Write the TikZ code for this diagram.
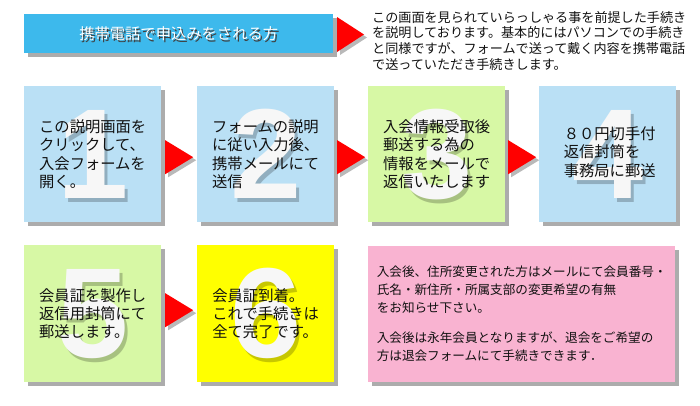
\documentclass[tikz,border=0pt]{standalone}
\usepackage{fontspec}
\newfontfamily\jpfont{Noto Sans CJK JP}
\newfontfamily\numfont{Liberation Sans}
\usetikzlibrary{calc,positioning,shadows}
\usepackage{xcolor}
\definecolor{stBlue}{HTML}{BAE0F5}
\definecolor{stGreen}{HTML}{D7F8A5}
\definecolor{stYellow}{HTML}{FFFF00}
\definecolor{stPink}{HTML}{F9B3D1}
\definecolor{stHead}{HTML}{3DB9EC}
\definecolor{stRed}{HTML}{FF0000}
\definecolor{stInk}{HTML}{111111}
\tikzset{
  boxshade/.style  = {drop shadow={shadow xshift=4pt, shadow yshift=-4pt,
                      fill=black!65}},
  stepbox/.style   = {boxshade, minimum width=137pt, minimum height=136pt,
                      inner sep=0, anchor=north west},
  bignum/.style    = {font=\numfont\bfseries\fontsize{128}{128}\selectfont,
                      text=white!97!black, inner sep=0},
  numshade/.style  = {bignum, text=black, opacity=0.22},
  steptext/.style  = {font=\jpfont\fontsize{15.3}{18.2}\selectfont, align=left,
                      inner sep=0, text=stInk},
  notetext/.style  = {font=\jpfont\fontsize{13.1}{15.6}\selectfont, align=left,
                      inner sep=0, text=stInk},
  pinktext/.style  = {font=\jpfont\fontsize{12.6}{18}\selectfont, align=left,
                      inner sep=0, text=stInk},
  redarrow/.style  = {fill=stRed, drop shadow={shadow xshift=3pt,
                      shadow yshift=-3pt, fill=black!55}},
}

\begin{document}
\begin{tikzpicture}[x=1pt, y=-1pt]
\useasboundingbox (0,0) rectangle (700,405);

% dimensions
\def\rowA{86}    % top of first row
\def\rowB{245}   % top of second row

% --- heading bar ---
\node[boxshade, fill=stHead, minimum width=309pt, minimum height=39pt,
      inner sep=0, anchor=north west] (head) at (24,14) {};
\node[font=\jpfont\fontsize{15.3}{18}\selectfont, text=black!75, inner sep=0]
  at ($(head.center)+(1.5,1.5)$) {携帯電話で申込みをされる方};
\node[font=\jpfont\fontsize{15.3}{18}\selectfont, text=white, inner sep=0]
  (headtext) at (head.center) {携帯電話で申込みをされる方};

\fill[redarrow, shift={(351,34.5)}] (-14,-17.5) -- (13,0) -- (-14,17.5) -- cycle;

\node[notetext, anchor=north west] (note) at (372,11)
  {この画面を見られていらっしゃる事を前提した手続き\\
   を説明しております。基本的にはパソコンでの手続き\\
   と同様ですが、フォームで送って戴く内容を携帯電話\\
   で送っていただき手続きします。};

% --- row 1 ---
\node[stepbox, fill=stBlue]  (b1) at (24,\rowA)  {};
\node[stepbox, fill=stBlue]  (b2) at (197,\rowA) {};
\node[stepbox, fill=stGreen] (b3) at (368,\rowA) {};
\node[stepbox, fill=stBlue]  (b4) at (539,\rowA) {};

% --- row 2 ---
\node[stepbox, fill=stGreen, minimum height=137pt]  (b5) at (24,\rowB)  {};
\node[stepbox, fill=stYellow, minimum height=137pt] (b6) at (197,\rowB) {};
\node[stepbox, fill=stPink, minimum width=307pt, minimum height=136pt]
  (info) at (368,246) {};

% big step numbers behind the text
\foreach \n in {1,...,6}{
  \node[numshade] at ($(b\n.center)+(3,4)$) {\n};
  \node[bignum] (n\n) at (b\n.center) {\n};
}

% texts
\node[steptext] (t1) at (b1.center)
  {この説明画面を\\クリックして、\\入会フォームを\\開く。};
\node[steptext] (t2) at (b2.center)
  {フォームの説明\\に従い入力後、\\携帯メールにて\\送信};
\node[steptext] (t3) at (b3.center)
  {入会情報受取後\\郵送する為の\\情報をメールで\\返信いたします};
\node[steptext] (t4) at ($(b4.center)+(2,-2)$)
  {８０円切手付\\返信封筒を\\事務局に郵送};
\node[steptext] (t5) at (b5.center)
  {会員証を製作し\\返信用封筒にて\\郵送します。};
\node[steptext] (t6) at (b6.center)
  {会員証到着。\\これで手続きは\\全て完了です。};
\node[pinktext] (t7) at (info.center)
  {入会後、住所変更された方はメールにて会員番号・\\
   氏名・新住所・所属支部の変更希望の有無\\
   をお知らせ下さい。\\[12pt]
   入会後は永年会員となりますが、退会をご希望の\\
   方は退会フォームにて手続きできます．};

% arrows between the steps
\coordinate (a1) at ($(b1.east)!.5!(b2.west)+(0,3)$);
\coordinate (a2) at ($(b2.east)!.5!(b3.west)+(0,3)$);
\coordinate (a3) at ($(b3.east)!.5!(b4.west)+(0,3)$);
\coordinate (a5) at ($(b5.east)!.5!(b6.west)+(0,-3.5)$);
\foreach \a in {a1,a2,a3,a5}
  \fill[redarrow, shift={(\a)}] (-14,-17) -- (14,0) -- (-14,17) -- cycle;

\end{tikzpicture}
\end{document}
